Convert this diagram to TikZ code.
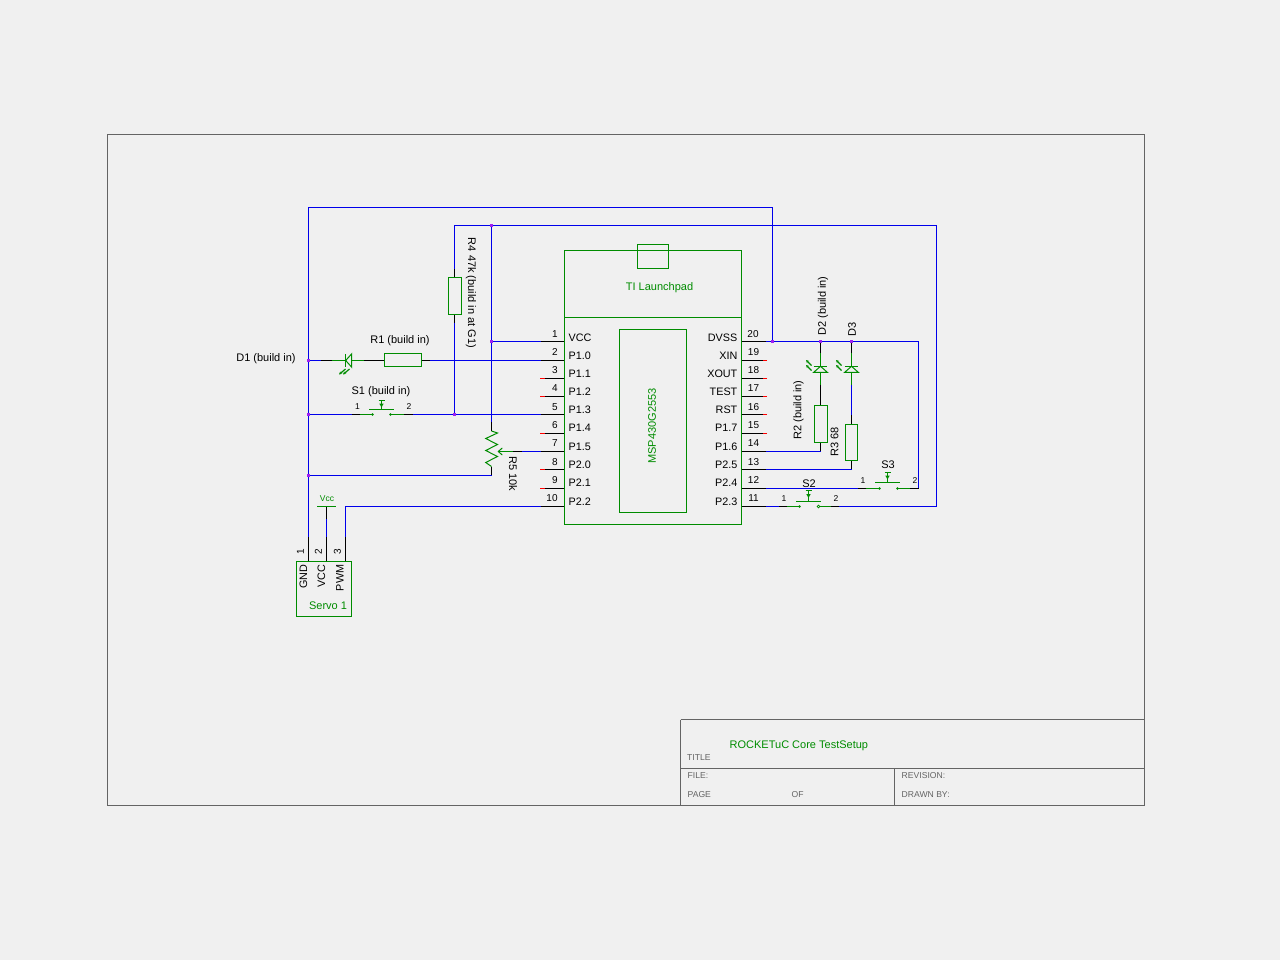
\documentclass[tikz,border=0pt]{standalone}
\usepackage{xcolor}
\usepackage{fontspec}
\usepackage{tikz}
\usetikzlibrary{arrows.meta, positioning}
\setmainfont{Liberation Sans}
\definecolor{partgreen}{RGB}{0,140,0}
\definecolor{wireblue}{RGB}{0,0,235}
\definecolor{junctionpurple}{RGB}{160,32,240}
\definecolor{framegray}{RGB}{100,100,100}
\definecolor{sheetbg}{RGB}{240,240,240}
\tikzset{
  wire/.style={draw=wireblue, line width=1pt},
  stub/.style={draw=black, line width=1pt},
  partline/.style={draw=partgreen, line width=1pt},
  nctip/.style={draw=red, line width=1pt},
  framebox/.style={draw=framegray, line width=1pt},
  junction/.style={fill=junctionpurple, minimum size=3.4pt, inner sep=0pt},
  pinnum/.style={font=\fontsize{10}{10}\selectfont, inner sep=0pt},
  smallnum/.style={font=\fontsize{8.5}{9}\selectfont, inner sep=0pt},
  pinleft/.style={font=\fontsize{10.8}{10}\selectfont, inner sep=0pt, anchor=west},
  pinright/.style={font=\fontsize{10.8}{10}\selectfont, inner sep=0pt, anchor=east},
  partlabel/.style={font=\fontsize{11}{10}\selectfont, inner sep=0pt},
  greenlabel/.style={font=\fontsize{11}{10}\selectfont, inner sep=0pt, text=partgreen},
  framelabel/.style={font=\fontsize{8.6}{9}\selectfont, inner sep=0pt, anchor=west, text=framegray},
  partbox/.style={partline, fill=none, inner sep=0pt},
  ray/.style={draw=partgreen, line width=1.2pt},
}
\begin{document}
\begin{tikzpicture}[x=1pt, y=-1pt]
    \useasboundingbox[fill=sheetbg] (0,0) rectangle (1280,960);

    % Sheet Frame and Title Block
    \draw[framebox] (107.5,134.5) rectangle (1144.5,805.5);
    \coordinate (tbNW) at (680.5,719.5);
    \coordinate (tbNE) at (1144.5,719.5);
    \coordinate (tbSW) at (680.5,805.5);
    \coordinate (tbW) at (680.5,768.5);
    \coordinate (tbE) at (1144.5,768.5);
    \coordinate (tbMid) at (894.5,768.5);
    \coordinate (tbBot) at (894.5,805.5);
    \draw[framebox] (tbNW) -- (tbNE);
    \draw[framebox] (tbNW) -- (tbSW);
    \draw[framebox] (tbW) -- (tbE);
    \draw[framebox] (tbMid) -- (tbBot);
    \node[framelabel] (lblTitle) at (687,757.5) {TITLE};
    \node[greenlabel, anchor=west] (lblSheet) at (729.5,746) {ROCKETuC Core TestSetup};
    \node[framelabel] (lblFile) at (687.5,775.5) {FILE:};
    \node[framelabel] (lblPage) at (687.5,794.5) {PAGE};
    \node[framelabel] (lblOf) at (791.5,794.5) {OF};
    \node[framelabel] (lblRev) at (901.5,775.5) {REVISION:};
    \node[framelabel] (lblDrawn) at (901.5,794.5) {DRAWN BY:};

    % Launchpad Body
    \node[partbox, minimum width=177pt, minimum height=273pt] (chip) at (653,387.5) {};
    \node[partbox, minimum width=31pt, minimum height=24pt] (usb) at (653,256.5) {};
    \node[partbox, minimum width=67pt, minimum height=183pt] (mcu) at (653,421) {};
    \coordinate (divL) at (564.5,317.5);
    \coordinate (divR) at (741.5,317.5);
    \draw[partline] (divL) -- (divR);
    \node[greenlabel] (lblBoard) at (659.5,288) {TI Launchpad};
    \node[greenlabel, rotate=90] (lblMcu) at (652,426) {MSP430G2553};

    % Left Pins
    \coordinate (p1) at (541,341.5);
    \coordinate (p2) at (541,360.5);
    \coordinate (p3) at (541,378.5);
    \coordinate (p4) at (541,396.5);
    \coordinate (p5) at (541,414.5);
    \coordinate (p6) at (541,433.5);
    \coordinate (p7) at (541,451.5);
    \coordinate (p8) at (541,469.5);
    \coordinate (p9) at (541,488.5);
    \coordinate (p10) at (541,506.5);
    \draw[stub] (p1) -- (p1 -| chip.west);
    \draw[stub] (p2) -- (p2 -| chip.west);
    \draw[stub] (p3) -- (p3 -| chip.west);
    \draw[stub] (p4) -- (p4 -| chip.west);
    \draw[stub] (p5) -- (p5 -| chip.west);
    \draw[stub] (p6) -- (p6 -| chip.west);
    \draw[stub] (p7) -- (p7 -| chip.west);
    \draw[stub] (p8) -- (p8 -| chip.west);
    \draw[stub] (p9) -- (p9 -| chip.west);
    \draw[stub] (p10) -- (p10 -| chip.west);
    \draw[nctip] (p3) ++(-1,0) -- +(4.5,0);
    \draw[nctip] (p4) ++(-1,0) -- +(4.5,0);
    \draw[nctip] (p6) ++(-1,0) -- +(4.5,0);
    \draw[nctip] (p8) ++(-1,0) -- +(4.5,0);
    \draw[nctip] (p9) ++(-1,0) -- +(4.5,0);
    \node[pinnum] (n1) at (555,334) {1};
    \node[pinnum] (n2) at (555,352.5) {2};
    \node[pinnum] (n3) at (555,370.5) {3};
    \node[pinnum] (n4) at (555,388.5) {4};
    \node[pinnum] (n5) at (555,407) {5};
    \node[pinnum] (n6) at (555,425) {6};
    \node[pinnum] (n7) at (555,443.5) {7};
    \node[pinnum] (n8) at (555,462) {8};
    \node[pinnum] (n9) at (555,480.5) {9};
    \node[pinnum] (n10) at (552,498.5) {10};
    \node[pinleft] (t1) at (568.5,337.5) {VCC};
    \node[pinleft] (t2) at (568.5,355.5) {P1.0};
    \node[pinleft] (t3) at (568.5,373.5) {P1.1};
    \node[pinleft] (t4) at (568.5,391.5) {P1.2};
    \node[pinleft] (t5) at (568.5,410) {P1.3};
    \node[pinleft] (t6) at (568.5,428) {P1.4};
    \node[pinleft] (t7) at (568.5,446.5) {P1.5};
    \node[pinleft] (t8) at (568.5,465) {P2.0};
    \node[pinleft] (t9) at (568.5,483) {P2.1};
    \node[pinleft] (t10) at (568.5,501.5) {P2.2};

    % Right Pins
    \coordinate (p20) at (766,341.5);
    \coordinate (p19) at (766,360.5);
    \coordinate (p18) at (766,378.5);
    \coordinate (p17) at (766,396.5);
    \coordinate (p16) at (766,414.5);
    \coordinate (p15) at (766,433.5);
    \coordinate (p14) at (766,451.5);
    \coordinate (p13) at (766,469.5);
    \coordinate (p12) at (766,488.5);
    \coordinate (p11) at (766,506.5);
    \draw[stub] (p20) -- (p20 -| chip.east);
    \draw[stub] (p19) -- (p19 -| chip.east);
    \draw[stub] (p18) -- (p18 -| chip.east);
    \draw[stub] (p17) -- (p17 -| chip.east);
    \draw[stub] (p16) -- (p16 -| chip.east);
    \draw[stub] (p15) -- (p15 -| chip.east);
    \draw[stub] (p14) -- (p14 -| chip.east);
    \draw[stub] (p13) -- (p13 -| chip.east);
    \draw[stub] (p12) -- (p12 -| chip.east);
    \draw[stub] (p11) -- (p11 -| chip.east);
    \draw[nctip] (p19) ++(1,0) -- +(-4,0);
    \draw[nctip] (p18) ++(1,0) -- +(-4,0);
    \draw[nctip] (p17) ++(1,0) -- +(-4,0);
    \draw[nctip] (p16) ++(1,0) -- +(-4,0);
    \draw[nctip] (p15) ++(1,0) -- +(-4,0);
    \node[pinnum] (n20) at (753,334) {20};
    \node[pinnum] (n19) at (753.5,352.5) {19};
    \node[pinnum] (n18) at (753.5,370.5) {18};
    \node[pinnum] (n17) at (753.5,388.5) {17};
    \node[pinnum] (n16) at (753.5,407) {16};
    \node[pinnum] (n15) at (753.5,425) {15};
    \node[pinnum] (n14) at (753.5,443.5) {14};
    \node[pinnum] (n13) at (753.5,462) {13};
    \node[pinnum] (n12) at (753.5,480.5) {12};
    \node[pinnum] (n11) at (753.5,498.5) {11};
    \node[pinright] (t20) at (737.5,337.5) {DVSS};
    \node[pinright] (t19) at (737.5,355.5) {XIN};
    \node[pinright] (t18) at (737.5,373.5) {XOUT};
    \node[pinright] (t17) at (737.5,391.5) {TEST};
    \node[pinright] (t16) at (737.5,410) {RST};
    \node[pinright] (t15) at (737.5,428) {P1.7};
    \node[pinright] (t14) at (737.5,446.5) {P1.6};
    \node[pinright] (t13) at (737.5,465) {P2.5};
    \node[pinright] (t12) at (737.5,483) {P2.4};
    \node[pinright] (t11) at (737.5,501.5) {P2.3};

    % Servo Connector
    \node[partbox, minimum width=55.5pt, minimum height=55.5pt] (servo) at (324,589) {};
    \coordinate (gnd) at (308.5,561);
    \coordinate (gndEnd) at (308.5,537);
    \coordinate (vcc) at (326.5,561);
    \coordinate (vccEnd) at (326.5,537);
    \coordinate (vccBar) at (326.5,506.5);
    \coordinate (vccStub) at (326.5,519);
    \coordinate (pwm) at (345.5,561);
    \coordinate (pwmEnd) at (345.5,537);
    \coordinate (pwmCorner) at (345.5,506.5);
    \draw[stub] (gnd) -- (gndEnd);
    \draw[stub] (vcc) -- (vccEnd);
    \draw[stub] (pwm) -- (pwmEnd);
    \draw[wire] (vccEnd) -- (vccStub);
    \draw[stub] (vccStub) -- (vccBar);
    \draw[partline] (vccBar) ++(-9.5,0) -- ++(19,0);
    \node[greenlabel, font=\fontsize{8.5}{9}\selectfont] (lblVcc) at (327,498.5) {Vcc};
    \node[pinnum, rotate=90] (s1) at (300.5,551.5) {1};
    \node[pinnum, rotate=90] (s2) at (318.5,551.5) {2};
    \node[pinnum, rotate=90] (s3) at (337.5,551.5) {3};
    \node[pinnum, rotate=90, font=\fontsize{10.8}{10}\selectfont, anchor=east] (tGnd) at (303.5,564.5) {GND};
    \node[pinnum, rotate=90, font=\fontsize{10.8}{10}\selectfont, anchor=east] (tVcc) at (321.5,564.5) {VCC};
    \node[pinnum, rotate=90, font=\fontsize{10.8}{10}\selectfont, anchor=east] (tPwm) at (340,564.5) {PWM};
    \node[greenlabel] (lblServo) at (328,605.5) {Servo 1};

    % Outer Ground Net
    \coordinate (topA) at (308.5,207.5);
    \coordinate (topB) at (772.5,207.5);
    \coordinate (jD1) at (308.5,360.5);
    \coordinate (jS1) at (308.5,414.5);
    \coordinate (jR5) at (308.5,475.5);
    \coordinate (jDvss) at (772.5,341.5);
    \draw[wire] (gndEnd) -- (topA) -- (topB) -- (jDvss);

    % VCC Net
    \coordinate (vccA) at (454.5,225.5);
    \coordinate (vccB) at (936.5,225.5);
    \coordinate (vccC) at (936.5,506.5);
    \coordinate (jTop) at (491.5,225.5);
    \coordinate (jPin1) at (491.5,341.5);
    \coordinate (jR4) at (454.5,414.5);
    \coordinate (r5Top) at (491.5,421.5);
    \coordinate (s2Out) at (839,506.5);
    \draw[wire] (s2Out) -- (vccC) -- (vccB) -- (vccA);
    \draw[wire] (jTop) -- (r5Top);
    \draw[wire] (jPin1) -- (p1);

    % R4
    \node[partbox, minimum width=13.4pt, minimum height=37.4pt] (r4) at (455,296) {};
    \coordinate (r4Up) at (454.5,269);
    \coordinate (r4Dn) at (454.5,322.5);
    \draw[wire] (vccA) -- (r4Up);
    \draw[stub] (r4Up) -- (r4.north -| r4Up);
    \draw[stub] (r4.south -| r4Dn) -- (r4Dn);
    \draw[wire] (r4Dn) -- (jR4);
    \node[partlabel, rotate=-90] (lblR4) at (471,293) {R4 47k (build in at G1)};

    % D1 and R1
    \coordinate (d1Stub) at (321,360.5);
    \coordinate (d1Leg) at (331.5,360.5);
    \coordinate (d1Tip) at (345.7,360.5);
    \coordinate (d1Base) at (351.7,360.5);
    \coordinate (d1Out) at (364,360.5);
    \coordinate (r1In) at (430,360.5);
    \node[partbox, minimum width=37.4pt, minimum height=13.4pt] (r1) at (403,360) {};
    \draw[wire] (jD1) -- (d1Stub);
    \draw[stub] (d1Stub) -- (d1Leg);
    \draw[partline] (d1Leg) -- (d1Tip);
    \draw[partline] (d1Base) -- (d1Out);
    \draw[partline] (d1Tip) ++(0,-6.7) -- ++(0,13.4);
    \draw[partline] (d1Tip) -- ++(6,-6.7) -- ++(0,13.4) -- cycle;
    \draw[ray, -{Stealth[length=3pt,width=3pt]}] (345.5,369) -- (339,374.5);
    \draw[ray, -{Stealth[length=3pt,width=3pt]}] (349.5,369) -- (343,374.5);
    \draw[stub] (d1Out) -- (r1.west |- d1Out);
    \draw[stub] (r1.east |- r1In) -- (r1In);
    \draw[wire] (r1In) -- (p2);
    \node[partlabel] (lblR1) at (400,341) {R1 (build in)};
    \node[partlabel] (lblD1) at (266,359) {D1 (build in)};

    % S1
    \coordinate (s1Stub) at (351.7,414.5);
    \coordinate (s1Leg) at (360,414.5);
    \coordinate (s1A) at (372.5,414.5);
    \coordinate (s1B) at (390.5,414.5);
    \coordinate (s1Out) at (404,414.5);
    \coordinate (s1End) at (413,414.5);
    \coordinate (s1Push) at (381.5,409.5);
    \draw[wire] (jS1) -- (s1Stub);
    \draw[stub] (s1Stub) -- (s1Leg);
    \draw[partline] (s1Leg) -- (s1A);
    \draw[partline] (s1B) -- (s1Out);
    \draw[stub] (s1Out) -- (s1End);
    \draw[wire] (s1End) -- (p5);
    \draw[partline] (s1Push) ++(-12.5,0) -- ++(25,0);
    \draw[partline] (s1Push) -- ++(0,-9.5) ++(-3,0) -- ++(6,0);
    \fill[partgreen] (s1Push) ++(-2.2,-6) -- ++(4.4,0) -- ++(-2.2,4) -- cycle;
    \fill[partgreen] (s1A) circle (1.3);
    \fill[partgreen] (s1B) circle (1.3);
    \node[partlabel] (lblS1) at (381,392) {S1 (build in)};
    \node[smallnum] (s1a) at (357.5,406.5) {1};
    \node[smallnum] (s1b) at (409,406.5) {2};

    % R5
    \coordinate (r5Bot) at (491.5,475.5);
    \draw[stub] (r5Top) -- (491.5,431);
    \draw[partline] (491.5,431) -- (497.5,433) -- (485.7,438.5) -- (497.5,444.5) -- (485.7,450.5) -- (497.5,456.5) -- (485.7,462.5) -- (491.5,466.5);
    \draw[stub] (491.5,466.5) -- (r5Bot);
    \draw[wire] (r5Bot) -- (jR5);
    \coordinate (wipe) at (512.5,451.5);
    \coordinate (wipeB) at (522,451.5);
    \draw[partline, -{Straight Barb[length=4pt,width=7pt]}] (wipe) -- (497.5,451.5);
    \draw[stub] (wipe) -- (wipeB);
    \draw[wire] (wipeB) -- (p7);
    \node[partlabel, rotate=-90] (lblR5) at (513,474) {R5 10k};

    % PWM Wire
    \draw[wire] (pwmEnd) -- (pwmCorner) -- (p10);

    % D2 and R2
    \coordinate (d2Top) at (820.5,341.5);
    \coordinate (d2Stub) at (820.5,353);
    \coordinate (d2Bar) at (820.5,366.3);
    \coordinate (d2Base) at (820.5,372.3);
    \coordinate (d2Leg) at (820.5,385);
    \coordinate (r2Foot) at (820.5,451.5);
    \node[partbox, minimum width=13pt, minimum height=37.4pt] (r2) at (821,424) {};
    \draw[stub] (d2Top) -- (d2Stub);
    \draw[partline] (d2Stub) -- (d2Bar);
    \draw[partline] (d2Bar) ++(-6.8,0) -- ++(13.6,0);
    \draw[partline] (d2Bar) -- ++(6.8,6) -- ++(-13.6,0) -- cycle;
    \draw[partline] (d2Base) -- (d2Leg);
    \draw[stub] (d2Leg) -- (r2.north -| d2Leg);
    \draw[stub] (r2.south -| r2Foot) -- (r2Foot);
    \draw[wire] (p14) -- (r2Foot);
    \draw[ray, {Stealth[length=3pt,width=3pt]}-] (806,360) -- (811.5,365.5);
    \draw[ray, {Stealth[length=3pt,width=3pt]}-] (806,365) -- (811.5,370.5);
    \node[partlabel, rotate=90] (lblD2) at (823,306) {D2 (build in)};
    \node[partlabel, rotate=90] (lblR2) at (798.5,410) {R2 (build in)};

    % D3 and R3
    \coordinate (d3Top) at (851.5,341.5);
    \coordinate (d3Stub) at (851.5,353);
    \coordinate (d3Bar) at (851.5,366.3);
    \coordinate (d3Base) at (851.5,372.3);
    \coordinate (d3Leg) at (851.5,385);
    \coordinate (d3Wire) at (851.5,415);
    \coordinate (r3Foot) at (851.5,469.5);
    \node[partbox, minimum width=12.4pt, minimum height=36.4pt] (r3) at (851.5,442.5) {};
    \draw[stub] (d3Top) -- (d3Stub);
    \draw[partline] (d3Stub) -- (d3Bar);
    \draw[partline] (d3Bar) ++(-6.8,0) -- ++(13.6,0);
    \draw[partline] (d3Bar) -- ++(6.8,6) -- ++(-13.6,0) -- cycle;
    \draw[partline] (d3Base) -- (d3Leg);
    \draw[wire] (d3Leg) -- (d3Wire);
    \draw[stub] (d3Wire) -- (r3.north -| d3Wire);
    \draw[stub] (r3.south -| r3Foot) -- (r3Foot);
    \draw[wire] (p13) -- (r3Foot);
    \draw[ray, {Stealth[length=3pt,width=3pt]}-] (836,360) -- (841.5,365.5);
    \draw[ray, {Stealth[length=3pt,width=3pt]}-] (836,365) -- (841.5,370.5);
    \node[partlabel, rotate=90] (lblD3) at (852,329) {D3};
    \node[partlabel, rotate=90] (lblR3) at (834.5,442) {R3 68};

    % DVSS Net and S3
    \coordinate (dvssR) at (918.5,341.5);
    \coordinate (dvssD) at (918.5,488.5);
    \coordinate (s3Stub) at (858,488.5);
    \coordinate (s3Leg) at (866,488.5);
    \coordinate (s3A) at (879.5,488.5);
    \coordinate (s3B) at (897.5,488.5);
    \coordinate (s3Out) at (910,488.5);
    \coordinate (s3Push) at (887.5,482.5);
    \draw[wire] (p20) -- (dvssR) -- (dvssD);
    \draw[stub] (dvssD) -- (s3Out);
    \draw[partline] (s3Out) -- (s3B);
    \draw[partline] (s3A) -- (s3Leg);
    \draw[stub] (s3Leg) -- (s3Stub);
    \draw[wire] (s3Stub) -- (p12);
    \draw[partline] (s3Push) ++(-12.5,0) -- ++(25,0);
    \draw[partline] (s3Push) -- ++(0,-10) ++(-3,0) -- ++(6,0);
    \fill[partgreen] (s3Push) ++(-2.2,-7) -- ++(4.4,0) -- ++(-2.2,4) -- cycle;
    \fill[partgreen] (s3A) circle (1.3);
    \fill[partgreen] (s3B) circle (1.3);
    \node[partlabel] (lblS3) at (888,465) {S3};
    \node[smallnum] (s3a) at (863,481) {1};
    \node[smallnum] (s3b) at (915,481) {2};

    % S2
    \coordinate (s2Stub) at (779,506.5);
    \coordinate (s2Leg) at (787,506.5);
    \coordinate (s2A) at (799.5,506.5);
    \coordinate (s2B) at (818.5,506.5);
    \coordinate (s2Lead) at (831,506.5);
    \coordinate (s2Push) at (808.5,501.5);
    \draw[wire] (p11) -- (s2Stub);
    \draw[stub] (s2Stub) -- (s2Leg);
    \draw[partline] (s2Leg) -- (s2A);
    \draw[partline] (s2B) -- (s2Lead);
    \draw[stub] (s2Lead) -- (s2Out);
    \draw[partline] (s2Push) ++(-12.5,0) -- ++(25,0);
    \draw[partline] (s2Push) -- ++(0,-11) ++(-3,0) -- ++(6,0);
    \fill[partgreen] (s2Push) ++(-2.2,-7.5) -- ++(4.4,0) -- ++(-2.2,4) -- cycle;
    \fill[partgreen] (s2A) circle (1.3);
    \draw[partline, fill=sheetbg, line width=.7pt] (s2B) circle (1.3);
    \node[partlabel] (lblS2) at (809,484) {S2};
    \node[smallnum] (s2a) at (784,499) {1};
    \node[smallnum] (s2b) at (836,499) {2};

    % Junction Dots
    \node[junction] (dotA) at (jD1) {};
    \node[junction] (dotB) at (jS1) {};
    \node[junction] (dotC) at (jR5) {};
    \node[junction] (dotD) at (jTop) {};
    \node[junction] (dotE) at (jPin1) {};
    \node[junction] (dotF) at (jR4) {};
    \node[junction] (dotG) at (jDvss) {};
    \node[junction] (dotH) at (d2Top) {};
    \node[junction] (dotI) at (d3Top) {};
\end{tikzpicture}
\end{document}
